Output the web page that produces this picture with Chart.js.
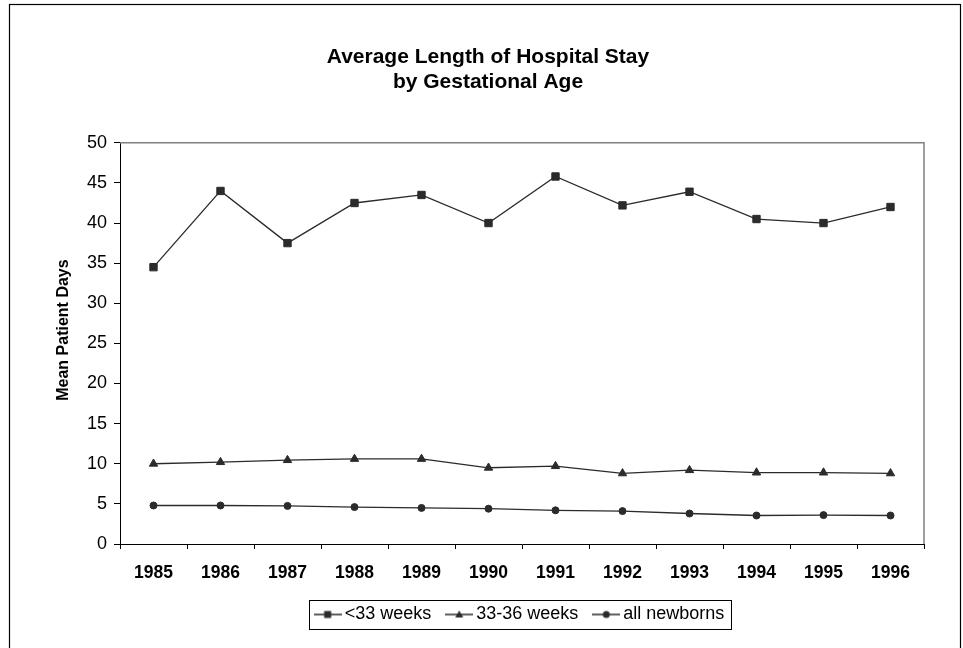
<!DOCTYPE html>
<html>
<head>
<meta charset="utf-8">
<script src="https://cdn.jsdelivr.net/npm/chart.js@4"></script>
<style>
  html, body { margin: 0; padding: 0; background: #fff; }
  #wrap { width: 963px; height: 648px; }
</style>
</head>
<body>
<div id="wrap"><canvas id="stayChart"></canvas></div>
<script>
// 연도별 평균 재원일수
const years = ['1985', '1986', '1987', '1988', '1989', '1990', '1991', '1992', '1993', '1994', '1995', '1996'];
const under33 = [34.5, 44.0, 37.5, 42.5, 43.5, 40.0, 45.8, 42.2, 43.9, 40.5, 40.0, 42.0];
const weeks33to36 = [10.0, 10.2, 10.45, 10.6, 10.6, 9.5, 9.7, 8.8, 9.2, 8.9, 8.9, 8.8];
const allNewborns = [4.8, 4.8, 4.75, 4.6, 4.5, 4.4, 4.2, 4.1, 3.8, 3.55, 3.6, 3.55];
const seriesNames = ['<33 weeks', '33-36 weeks', 'all newborns'];
const yTicks = [0, 5, 10, 15, 20, 25, 30, 35, 40, 45, 50];

const FONT = "'Liberation Sans', Arial, sans-serif";
const INK = '#2b2b2b';

// 범례용 아이콘: 선 + 마커
function makeIcon(shape) {
    const c = document.createElement('canvas');
    c.width = 28;
    c.height = 10;
    const g = c.getContext('2d');
    g.strokeStyle = INK;
    g.lineWidth = 1.5;
    g.beginPath();
    g.moveTo(0, 5);
    g.lineTo(28, 5);
    g.stroke();
    g.fillStyle = INK;
    g.beginPath();
    if (shape === 'rect') {
        g.rect(10.5, 1.5, 7, 7);
    } else if (shape === 'triangle') {
        g.moveTo(14, 1);
        g.lineTo(18, 8);
        g.lineTo(10, 8);
        g.closePath();
    } else {
        g.arc(14, 5, 3.5, 0, Math.PI * 2);
    }
    g.fill();
    return c;
}
const legendIcons = [makeIcon('rect'), makeIcon('triangle'), makeIcon('circle')];

// 외곽 테두리, 플롯 영역 위/오른쪽 선, 범례 박스
const framePlugin = {
    id: 'frames',
    beforeDatasetsDraw(chart) {
        const {ctx, chartArea: a} = chart;
        ctx.save();
        ctx.strokeStyle = '#808080';
        ctx.lineWidth = 1.5;
        ctx.beginPath();
        ctx.moveTo(a.left, a.top);
        ctx.lineTo(a.right, a.top);
        ctx.lineTo(a.right, a.bottom);
        ctx.stroke();
        ctx.restore();
    },
    afterDraw(chart) {
        const {ctx} = chart;
        ctx.save();
        ctx.strokeStyle = '#000';
        ctx.lineWidth = 1.2;
        ctx.strokeRect(9.5, 4.5, 951, 700);

        const boxes = chart.legend.legendHitBoxes;
        if (boxes && boxes.length) {
            const first = boxes[0];
            const last = boxes[boxes.length - 1];
            const left = first.left - 11;
            const right = last.left + last.width + 6;
            const cy = first.top + 9;
            ctx.lineWidth = 1;
            ctx.strokeStyle = '#000';
            ctx.strokeRect(Math.round(left) + 0.5, Math.round(cy - 14.5) + 0.5, Math.round(right - left), 29);
        }
        ctx.restore();
    }
};

function lineSet(label, data, style, radius) {
    return {
        label: label,
        data: data,
        borderColor: INK,
        borderWidth: 1.3,
        backgroundColor: INK,
        pointStyle: style,
        pointRadius: radius,
        pointHoverRadius: radius,
        pointBackgroundColor: INK,
        pointBorderColor: INK,
        pointBorderWidth: 1,
        tension: 0,
        fill: false
    };
}

const ctx = document.getElementById('stayChart').getContext('2d');
new Chart(ctx, {
    type: 'line',
    data: {
        labels: years,
        datasets: [
            lineSet(seriesNames[0], under33, 'rect', 5.2),
            lineSet(seriesNames[1], weeks33to36, 'triangle', 4.8),
            lineSet(seriesNames[2], allNewborns, 'circle', 3.5)
        ]
    },
    options: {
        responsive: true,
        maintainAspectRatio: false,
        animation: false,
        layout: {
            padding: {left: 52, right: 39, top: 10, bottom: 14.5}
        },
        plugins: {
            title: {
                display: true,
                text: ['Average Length of Hospital Stay', 'by Gestational Age'],
                color: '#000',
                font: {family: FONT, size: 21, weight: 'bold', lineHeight: 1.15},
                padding: {top: 35.5, bottom: 49}
            },
            legend: {
                display: true,
                position: 'bottom',
                fullSize: false,
                labels: {
                    usePointStyle: true,
                    pointStyleWidth: 16,
                    padding: 20,
                    color: '#000',
                    font: {family: FONT, size: 18},
                    generateLabels: chart => chart.data.datasets.map((ds, i) => ({
                        text: ds.label,
                        pointStyle: legendIcons[i],
                        fontColor: '#000',
                        fillStyle: 'transparent',
                        strokeStyle: 'transparent',
                        lineWidth: 0,
                        hidden: false,
                        datasetIndex: i
                    }))
                }
            },
            tooltip: {enabled: false}
        },
        scales: {
            x: {
                offset: true,
                afterFit: scale => { scale.height = 41.5; },
                grid: {
                    offset: true,
                    drawOnChartArea: false,
                    drawTicks: true,
                    tickLength: 5,
                    color: '#000'
                },
                border: {color: '#000', width: 1},
                ticks: {
                    color: '#000',
                    padding: 13.5,
                    maxRotation: 0,
                    font: {family: FONT, size: 17.5, weight: 'bold'}
                }
            },
            y: {
                min: 0,
                max: 50,
                afterFit: scale => { scale.width = 68; },
                afterBuildTicks: scale => { scale.ticks = yTicks.map(v => ({value: v})); },
                grid: {
                    drawOnChartArea: false,
                    drawTicks: true,
                    tickLength: 6,
                    color: '#000'
                },
                border: {color: '#000', width: 1},
                ticks: {
                    color: '#000',
                    padding: 7,
                    font: {family: FONT, size: 18}
                },
                title: {
                    display: true,
                    // 앞쪽 공백으로 제목을 축 중앙보다 조금 위로 올림
                    text: '      Mean Patient Days',
                    color: '#000',
                    padding: {top: 1.5, bottom: 0},
                    font: {family: FONT, size: 16, weight: 'bold'}
                }
            }
        }
    },
    plugins: [framePlugin]
});
</script>
</body>
</html>
